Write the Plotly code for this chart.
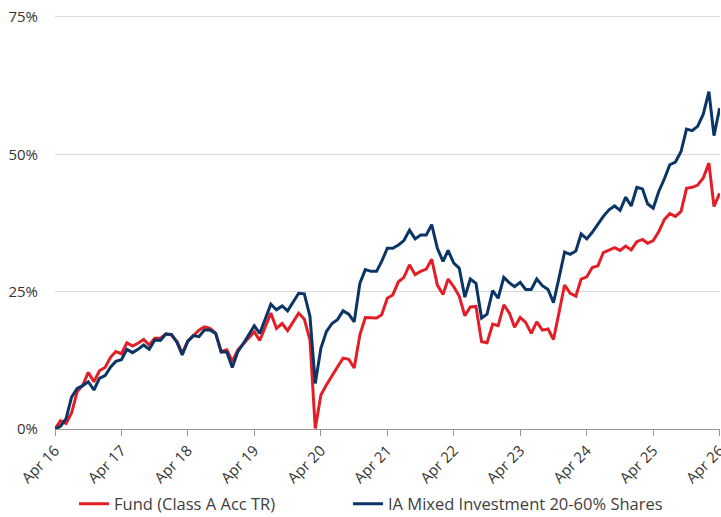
import pandas as pd
import plotly.graph_objects as go

dates = pd.date_range("2016-04-01", "2026-04-01", freq="MS")

fund = [
    0.0, 1.5, 1.0, 2.9, 6.8, 8.0, 10.3, 8.6, 10.6, 11.2, 13.1, 14.1,
    13.7, 15.7, 15.1, 15.6, 16.3, 15.3, 16.5, 16.5, 17.3, 17.1, 15.9, 13.8,
    16.0, 17.0, 18.0, 18.6, 18.3, 17.4, 14.1, 14.4, 12.3, 14.4, 15.5, 16.6,
    17.7, 16.1, 18.6, 21.1, 18.3, 19.2, 17.9, 19.5, 21.1, 20.0, 16.2, 0.1,
    6.2, 8.0, 9.8, 11.3, 12.9, 12.7, 11.1, 17.1, 20.3, 20.2, 20.2, 20.8,
    23.8, 24.4, 26.8, 27.6, 29.9, 28.1, 28.7, 29.1, 30.9, 26.2, 24.5, 27.3,
    25.9, 24.2, 20.6, 22.2, 22.3, 15.9, 15.7, 19.1, 18.8, 22.6, 21.1, 18.5,
    20.3, 19.4, 17.4, 19.5, 18.0, 18.2, 16.3, 21.3, 26.2, 24.7, 24.2, 27.3,
    27.7, 29.4, 29.7, 32.1, 32.6, 33.0, 32.5, 33.3, 32.6, 34.1, 34.5, 33.8,
    34.3, 35.9, 38.1, 39.2, 38.7, 39.6, 43.8, 44.0, 44.4, 45.7, 48.4, 40.5,
    42.9,
]

sector = [
    0.0, 0.5, 1.9, 5.8, 7.4, 7.9, 8.6, 7.1, 9.2, 9.7, 11.3, 12.3,
    12.6, 14.5, 13.9, 14.5, 15.3, 14.5, 16.2, 16.1, 17.3, 17.2, 15.7, 13.5,
    16.0, 17.0, 16.8, 18.0, 18.0, 17.4, 14.0, 14.0, 11.2, 14.1, 15.6, 17.2,
    18.8, 17.4, 20.0, 22.7, 21.7, 22.4, 21.5, 23.1, 24.7, 24.6, 20.5, 8.3,
    14.7, 17.7, 19.2, 19.9, 21.5, 20.9, 19.5, 26.5, 29.0, 28.7, 28.7, 30.5,
    32.9, 32.9, 33.5, 34.3, 36.2, 34.6, 35.3, 35.3, 37.2, 32.9, 30.5, 32.5,
    30.2, 29.3, 24.0, 27.3, 26.5, 20.2, 20.9, 25.2, 23.8, 27.6, 26.6, 25.9,
    26.7, 25.4, 25.4, 27.3, 26.1, 25.4, 23.0, 27.6, 32.2, 31.8, 32.4, 35.5,
    34.6, 35.8, 37.3, 38.7, 39.9, 40.6, 39.8, 42.2, 40.6, 44.0, 43.7, 41.0,
    40.2, 43.2, 45.5, 48.1, 48.6, 50.5, 54.6, 54.3, 55.1, 57.3, 61.4, 53.4,
    58.4,
]

tick_dates = pd.date_range("2016-04-01", "2026-04-01", freq="12MS")
tick_labels = ["Apr 16", "Apr 17", "Apr 18", "Apr 19", "Apr 20", "Apr 21",
               "Apr 22", "Apr 23", "Apr 24", "Apr 25", "Apr 26"]
y_ticks = [0, 25, 50, 75]
y_labels = ["0%", "25%", "50%", "75%"]

fig = go.Figure()
fig.add_trace(go.Scatter(x=dates, y=fund, mode="lines",
                         name="Fund (Class A Acc TR)",
                         line=dict(color="#E31E26", width=3),
                         legend="legend"))
fig.add_trace(go.Scatter(x=dates, y=sector, mode="lines",
                         name="IA Mixed Investment 20-60% Shares",
                         line=dict(color="#0A3565", width=3),
                         legend="legend2"))

legend_font = dict(family="Open Sans", size=16.5, color="#404040")
fig.update_layout(
    width=721, height=517,
    margin=dict(l=55, r=1, t=15, b=88, autoexpand=False),
    paper_bgcolor="white", plot_bgcolor="white",
    font=dict(family="Open Sans", color="#333333"),
    showlegend=True,
    legend=dict(orientation="h", x=0.0286, xanchor="left", y=-0.181, yanchor="middle",
                font=legend_font, itemwidth=30, bgcolor="rgba(0,0,0,0)"),
    legend2=dict(orientation="h", x=0.4406, xanchor="left", y=-0.181, yanchor="middle",
                 font=legend_font, itemwidth=30, bgcolor="rgba(0,0,0,0)"),
)
fig.update_xaxes(
    type="date", automargin=False,
    range=[dates[0], dates[-1] + pd.Timedelta(days=2)],
    tickvals=tick_dates, ticktext=tick_labels,
    tickangle=-45, tickfont=dict(size=15, color="#333333"),
    ticklabeloverflow="allow",
    ticks="outside", ticklen=6, tickcolor="#999999",
    showline=True, linecolor="#999999", linewidth=1,
    showgrid=False, zeroline=False,
)
fig.update_yaxes(
    range=[0, 75.36], automargin=False,
    tickvals=y_ticks, ticktext=y_labels,
    tickfont=dict(size=15, color="#333333"),
    showgrid=True, gridcolor="#D9D9D9", gridwidth=1,
    zeroline=False, showline=False, ticks="",
    ticklabelstandoff=16,
)

fig.write_html(
    "out.html",
    config={"displayModeBar": False},
    post_script="document.body.style.margin='0';document.body.style.overflow='hidden';",
)
